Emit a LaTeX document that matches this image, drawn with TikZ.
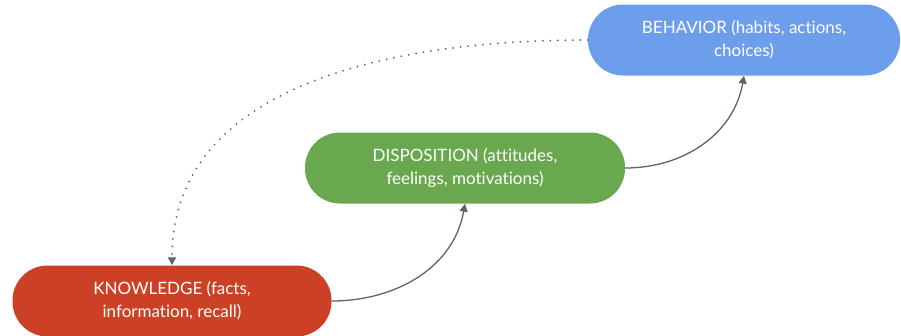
\documentclass[tikz,border=0pt]{standalone}
\usepackage{fontspec}
\setmainfont{Lato}[Ligatures={NoCommon}]
\usetikzlibrary{arrows.meta}
\usepackage{xcolor}
\definecolor{knowred}{HTML}{CC4125}
\definecolor{dispgreen}{HTML}{6AA84F}
\definecolor{behavblue}{HTML}{6D9EEB}
\definecolor{linkgray}{HTML}{5B6667}

\begin{document}
\begin{tikzpicture}[x=1pt, y=-1pt]
\tikzset{stage/.style = {shape=rectangle, rounded corners=35pt, minimum width=319pt, minimum height=71pt, text=white, align=center, font=\fontsize{17}{23}\selectfont, inner sep=0pt}}
\tikzset{link/.style = {draw=linkgray, line width=1.3pt, -{Triangle[length=8pt,width=8pt]}}}
\tikzset{backlink/.style = {link, line cap=round, dash pattern=on 0pt off 7.5pt, line width=2pt}}

\useasboundingbox (0,0) rectangle (901,335);

\node[stage, fill=knowred] (K) at (172,301) {KNOWLEDGE (facts,\\information, recall)};
\node[stage, fill=dispgreen, minimum width=320pt] (D) at (465,168) {DISPOSITION (attitudes,\\feelings, motivations)};
\node[stage, fill=behavblue, minimum width=312pt] (B) at (744,40) {BEHAVIOR (habits, actions,\\choices)};

%edges
\draw[link] (K.east) to[out=0, in=-100] (D.south);
\draw[link] (D.east) to[out=0, in=-100] (B.south);
\draw[backlink] (B.west) to[out=180, in=90] (K.north);

\end{tikzpicture}
\end{document}
